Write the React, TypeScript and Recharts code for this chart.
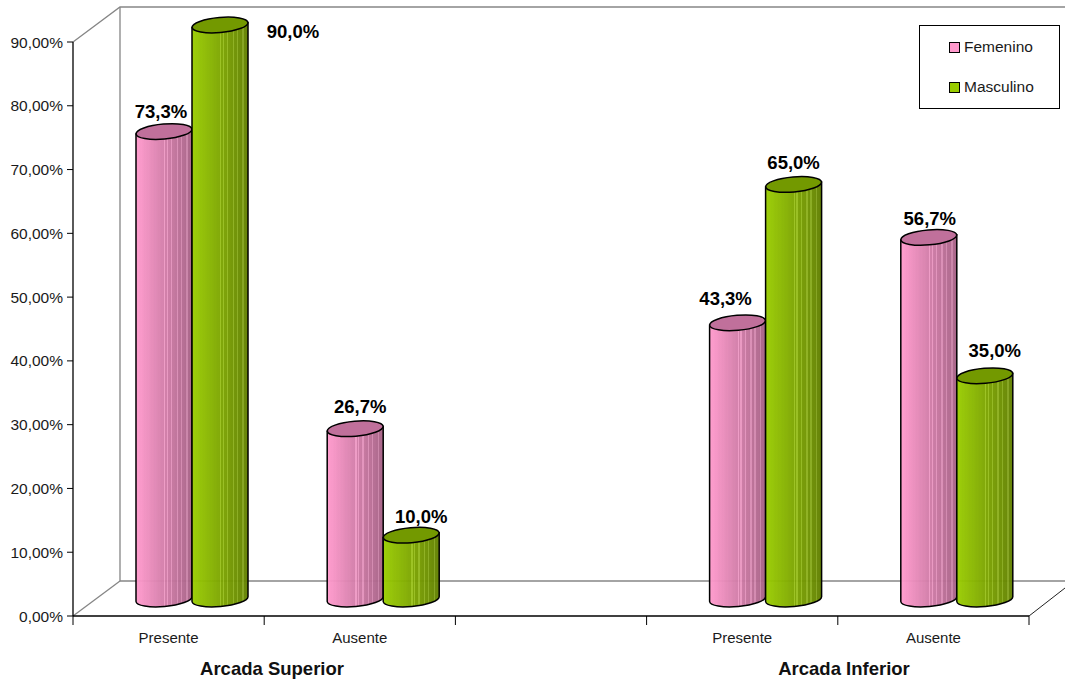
import { BarChart, Bar, XAxis, YAxis, Legend, LabelList } from 'recharts'

const WIDTH = 1065
const HEIGHT = 679
const AXIS_LEFT = 73
const AXIS_BOTTOM = 63
const MARGIN = { top: 42, right: 36, left: 0, bottom: 0 }

const CATEGORIES = ['Presente', 'Ausente', '', 'Presente', 'Ausente']
const FEMENINO = [73.3, 26.7, null, 43.3, 56.7]
const MASCULINO = [90.0, 10.0, null, 65.0, 35.0]
const Y_TICKS = [0, 10, 20, 30, 40, 50, 60, 70, 80, 90]
const GROUPS = ['Arcada Superior', 'Arcada Inferior']

// label nudges relative to the top of each cylinder (LabelList skips the empty category)
const FEM_LABEL_DX = [-3, 5, -12, 1]
const FEM_LABEL_DY = [-31, -33, -35, -29]
const MASC_LABEL_DX = [73, 10, 0, 10]
const MASC_LABEL_DY = [-4, -29, -32, -36]

const data = CATEGORIES.map((name, i) => ({
  id: i,
  name,
  femenino: FEMENINO[i],
  masculino: MASCULINO[i],
}))

const FONT = '"Liberation Sans", Arial, sans-serif'
const WALL = '#868686'

// depth shift of the bars into the floor, and the tilt of their ellipses
const DEPTH_X = 23
const DEPTH_Y = -17
const RY = 7.5
const TILT = 5

const PINK = { id: 'cylPink', light: [255, 153, 204], dark: [164, 96, 132], top: '#c0709b', swatch: '#ff99cc' }
const GREEN = { id: 'cylGreen', light: [153, 204, 0], dark: [96, 126, 0], top: '#739900', swatch: '#99cc00' }

// positions of the pale streaks across the cylinder body
const STREAKS = [0.5, 0.56, 0.62, 0.72, 0.8, 0.9]

function Gradient({ tone }: { tone: typeof PINK }) {
  const stops: { o: number; c: string }[] = []
  const steps = 40
  for (let i = 0; i < steps; i++) {
    const a = i / steps
    const b = (i + 1) / steps
    const lift = STREAKS.some((s) => Math.abs(s - a) < 0.012) ? 28 : 0
    const rgb = tone.light.map((v, k) => Math.min(255, Math.round(v + (tone.dark[k] - v) * a + lift)))
    const col = `rgb(${rgb.join(',')})`
    stops.push({ o: a, c: col }, { o: b, c: col })
  }
  return (
    <linearGradient id={tone.id} x1="0" y1="0" x2="1" y2="0">
      {stops.map((s, i) => <stop key={i} offset={s.o} stopColor={s.c} />)}
    </linearGradient>
  )
}

function Cylinder(props: any, tone: typeof PINK) {
  const { x, y, width, height } = props
  if (!width || y == null || !height) return <g />
  const left = x + DEPTH_X
  const right = left + width
  const rx = width / 2
  const top = y + DEPTH_Y
  const bottom = y + height + DEPTH_Y
  const drop = Math.sin((TILT * Math.PI) / 180) * rx
  return (
    <g>
      <path
        d={`M${left},${top + drop} L${left},${bottom + drop} A${rx},${RY} ${-TILT} 0 0 ${right},${bottom - drop} L${right},${top - drop} Z`}
        fill={`url(#${tone.id})`} fillOpacity={0.96} stroke="#000" strokeWidth={1.5}
      />
      <ellipse
        cx={left + rx} cy={top} rx={rx} ry={RY} fill={tone.top} stroke="#000" strokeWidth={1.5}
        transform={`rotate(${-TILT} ${left + rx} ${top})`}
      />
    </g>
  )
}

function ValueLabel(props: any, dxs: number[], dys: number[]) {
  const { x, y, width, value, index } = props
  if (value == null) return <g />
  return (
    <text
      x={x + DEPTH_X + width / 2 + dxs[index]} y={y + dys[index]}
      textAnchor="middle" fontFamily={FONT} fontWeight="bold" fontSize={18.5} fill="#000"
    >
      {`${Number(value).toFixed(1).replace('.', ',')}%`}
    </text>
  )
}

// category label centred in its band, tick marks on the band boundaries
function CategoryTick(props: any) {
  const { x, payload, index } = props
  const half = (WIDTH - AXIS_LEFT - MARGIN.right) / CATEGORIES.length / 2
  const axisY = HEIGHT - AXIS_BOTTOM
  return (
    <g>
      <line x1={x - half} x2={x - half} y1={axisY} y2={axisY + 9} stroke="#000" />
      {index === CATEGORIES.length - 1 && (
        <line x1={x + half} x2={x + half} y1={axisY} y2={axisY + 9} stroke="#000" />
      )}
      <text x={x} y={axisY + 27} textAnchor="middle" fontFamily={FONT} fontSize={15} fill="#1a1a1a">
        {CATEGORIES[index] ?? payload.value}
      </text>
    </g>
  )
}

function LegendBox() {
  const rows = [{ label: 'Femenino', tone: PINK }, { label: 'Masculino', tone: GREEN }]
  return (
    <div style={{
      boxSizing: 'border-box', width: 141, height: 84, background: '#fff', border: '1px solid #000',
      display: 'flex', flexDirection: 'column', justifyContent: 'space-around', padding: '1px 0 1px 29px',
      fontFamily: FONT, fontSize: 15.5, color: '#1a1a1a', whiteSpace: 'nowrap',
    }}>
      {rows.map((r) => (
        <div key={r.label} style={{ display: 'flex', alignItems: 'center', gap: 4 }}>
          <span style={{ width: 9, height: 9, background: r.tone.swatch, border: '1px solid #000', display: 'inline-block' }} />
          {r.label}
        </div>
      ))}
    </div>
  )
}

export default function App() {
  const floorY = 581
  const wallX = 120
  const axisY = HEIGHT - AXIS_BOTTOM
  return (
    <div style={{ position: 'absolute', left: 0, top: 0, width: WIDTH, height: HEIGHT }}>
      <BarChart width={WIDTH} height={HEIGHT} data={data} margin={MARGIN} barSize={56} barGap={0} barCategoryGap={0}>
        <defs>
          <Gradient tone={PINK} />
          <Gradient tone={GREEN} />
        </defs>
        {/* back wall and floor */}
        <g stroke={WALL} strokeWidth={1.3} fill="none">
          <path d={`M${AXIS_LEFT},${MARGIN.top} L${wallX},7 L${WIDTH},7`} />
          <path d={`M${wallX},7 L${wallX},${floorY} L${WIDTH},${floorY}`} />
          <path d={`M${AXIS_LEFT},${axisY} L${wallX},${floorY}`} />
        </g>
        <path d={`M${WIDTH - MARGIN.right},${axisY} L${WIDTH},588`} stroke="#222" fill="none" />
        <XAxis
          dataKey="id" type="category" interval={0} tickLine={false} height={AXIS_BOTTOM}
          axisLine={{ stroke: '#000', strokeWidth: 1.3 }} tick={CategoryTick}
        />
        <YAxis
          type="number" domain={[0, 90]} ticks={Y_TICKS} interval={0} width={AXIS_LEFT}
          tickFormatter={(v) => `${Number(v).toFixed(2).replace('.', ',')}%`}
          tick={{ fontFamily: FONT, fontSize: 15.5, fill: '#1a1a1a' }}
          tickLine={{ stroke: '#000' }} tickSize={6} tickMargin={4}
          axisLine={{ stroke: '#000', strokeWidth: 1.3 }}
        />
        <Legend
          layout="horizontal" verticalAlign="middle" content={<LegendBox />}
          wrapperStyle={{ position: 'absolute', left: 919, top: 25, width: 141, height: 84 }}
        />
        <Bar dataKey="femenino" isAnimationActive={false} shape={(p: any) => Cylinder(p, PINK)}>
          <LabelList dataKey="femenino" content={(p: any) => ValueLabel(p, FEM_LABEL_DX, FEM_LABEL_DY)} />
        </Bar>
        <Bar dataKey="masculino" isAnimationActive={false} shape={(p: any) => Cylinder(p, GREEN)}>
          <LabelList dataKey="masculino" content={(p: any) => ValueLabel(p, MASC_LABEL_DX, MASC_LABEL_DY)} />
        </Bar>
        {/* group captions below the axis */}
        <text x={272} y={675} textAnchor="middle" fontFamily={FONT} fontWeight="bold" fontSize={18.5} fill="#111">{GROUPS[0]}</text>
        <text x={844} y={675} textAnchor="middle" fontFamily={FONT} fontWeight="bold" fontSize={18.5} fill="#111">{GROUPS[1]}</text>
      </BarChart>
    </div>
  )
}
